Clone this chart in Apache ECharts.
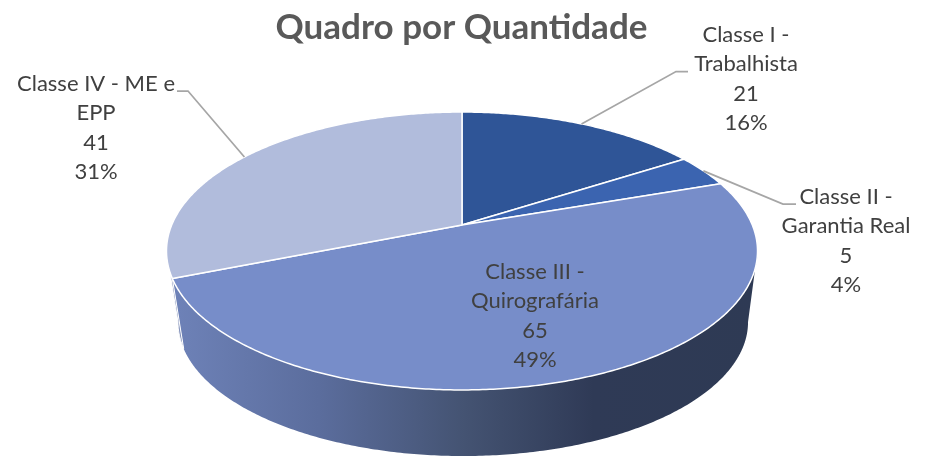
<!DOCTYPE html>
<html><head><meta charset="utf-8">
<style>html,body{margin:0;padding:0;background:#fff}#c{width:930px;height:457px}</style>
<script src="https://cdn.jsdelivr.net/npm/echarts@6/dist/echarts.min.js"></script>
</head><body><div id="c"></div>
<script>
const chartTitle = 'Quadro por Quantidade';
const categories = ['Classe I -\nTrabalhista', 'Classe II -\nGarantia Real', 'Classe III -\nQuirografária', 'Classe IV - ME e\nEPP'];
const values = [21, 5, 65, 41];

const total = values.reduce((a, b) => a + b, 0);
const TAU = Math.PI * 2;
// perspective projection of the tilted disc
const PERSP = 0.187;
const topDisc = { cx: 462, cy: 225, a: 290.3, b: 134.1 };
const botDisc = { cx: 463, cy: 297, a: 280, b: 129.3 };
function project(d, t) {
  const w = 1 + PERSP * Math.cos(t);
  return [d.cx + d.a * Math.sin(t) / w, d.cy - d.b * Math.cos(t) / w];
}
function arc(d, t0, t1) {
  const n = Math.max(2, Math.ceil(Math.abs(t1 - t0) / 0.01));
  const pts = [];
  for (let i = 0; i <= n; i++) pts.push(project(d, t0 + (t1 - t0) * i / n));
  return pts;
}
function range(i) {
  let s = 0;
  for (let k = 0; k < i; k++) s += values[k];
  return [s / total * TAU, (s + values[i]) / total * TAU];
}
const colors = ['#2f5597', '#3b64b0', '#778dc9', '#b1bcdc'];
const labelBox = [
  { x: 746, y: 79, elbow: [[676, 71.5], [688, 71.5]] },
  { x: 846, y: 241, elbow: [[783, 204], [796, 204]] },
  { x: 535, y: 316, elbow: null },
  { x: 96, y: 128, elbow: [[188, 91], [177, 91]] }
];
const silhouette = Math.acos(-PERSP); // where the rim's side edge sits

const wallFill = new echarts.graphic.LinearGradient(0, 0, 1, 0, [
  { offset: 0, color: '#6e82b8' }, { offset: 0.25, color: '#5b6d9d' },
  { offset: 0.5, color: '#445372' }, { offset: 0.72, color: '#2f3a56' }, { offset: 1, color: '#2e3a54' }
]);

function renderWall(params, api) {
  const i = params.dataIndex;
  const [t0, t1] = range(i);
  const lo = Math.max(t0, silhouette), hi = Math.min(t1, TAU - silhouette);
  if (lo >= hi) return null;
  const pts = arc(topDisc, lo, hi).concat(arc(botDisc, hi, lo));
  return {
    type: 'polygon', shape: { points: pts },
    style: i === 2 ? { fill: wallFill } : { fill: '#8593bb', stroke: '#fff', lineWidth: 1 }
  };
}
function renderFace(params, api) {
  const i = params.dataIndex;
  const [t0, t1] = range(i);
  const pts = [[topDisc.cx, topDisc.cy]].concat(arc(topDisc, t0, t1));
  return {
    type: 'polygon', shape: { points: pts },
    style: { fill: colors[i], stroke: '#fff', lineWidth: 1.5, lineJoin: 'round' }
  };
}
function renderLabel(params, api) {
  const i = params.dataIndex;
  const v = api.value(0);
  const [t0, t1] = range(i);
  const box = labelBox[i];
  const children = [];
  if (box.elbow) {
    children.push({
      type: 'polyline',
      shape: { points: [project(topDisc, (t0 + t1) / 2)].concat(box.elbow) },
      style: { fill: null, stroke: '#a6a6a6', lineWidth: 1.75 }
    });
  }
  children.push({
    type: 'text',
    style: {
      x: box.x, y: box.y, align: 'center', verticalAlign: 'middle',
      text: categories[i] + '\n' + v + '\n' + Math.round(v / total * 100) + '%',
      font: '400 22px Lato', lineHeight: 29.4, fill: '#404040'
    }
  });
  return { type: 'group', children };
}
const seriesData = values.map((v, i) => ({ name: categories[i], value: [v] }));
const chart = echarts.init(document.getElementById('c'), null, { renderer: 'canvas' });
chart.setOption({
  animation: false,
  backgroundColor: '#fff',
  title: {
    text: chartTitle, left: 456.5, textAlign: 'center', top: 5,
    textStyle: { fontFamily: 'Lato', fontWeight: 'bold', fontSize: 35, color: '#595959' }
  },
  series: [
    { type: 'custom', coordinateSystem: 'none', z: 1, silent: true, data: seriesData, renderItem: renderWall },
    { type: 'custom', coordinateSystem: 'none', z: 2, silent: true, data: seriesData, renderItem: renderFace },
    { type: 'custom', coordinateSystem: 'none', z: 3, silent: true, data: seriesData, renderItem: renderLabel }
  ]
});
</script></body></html>
